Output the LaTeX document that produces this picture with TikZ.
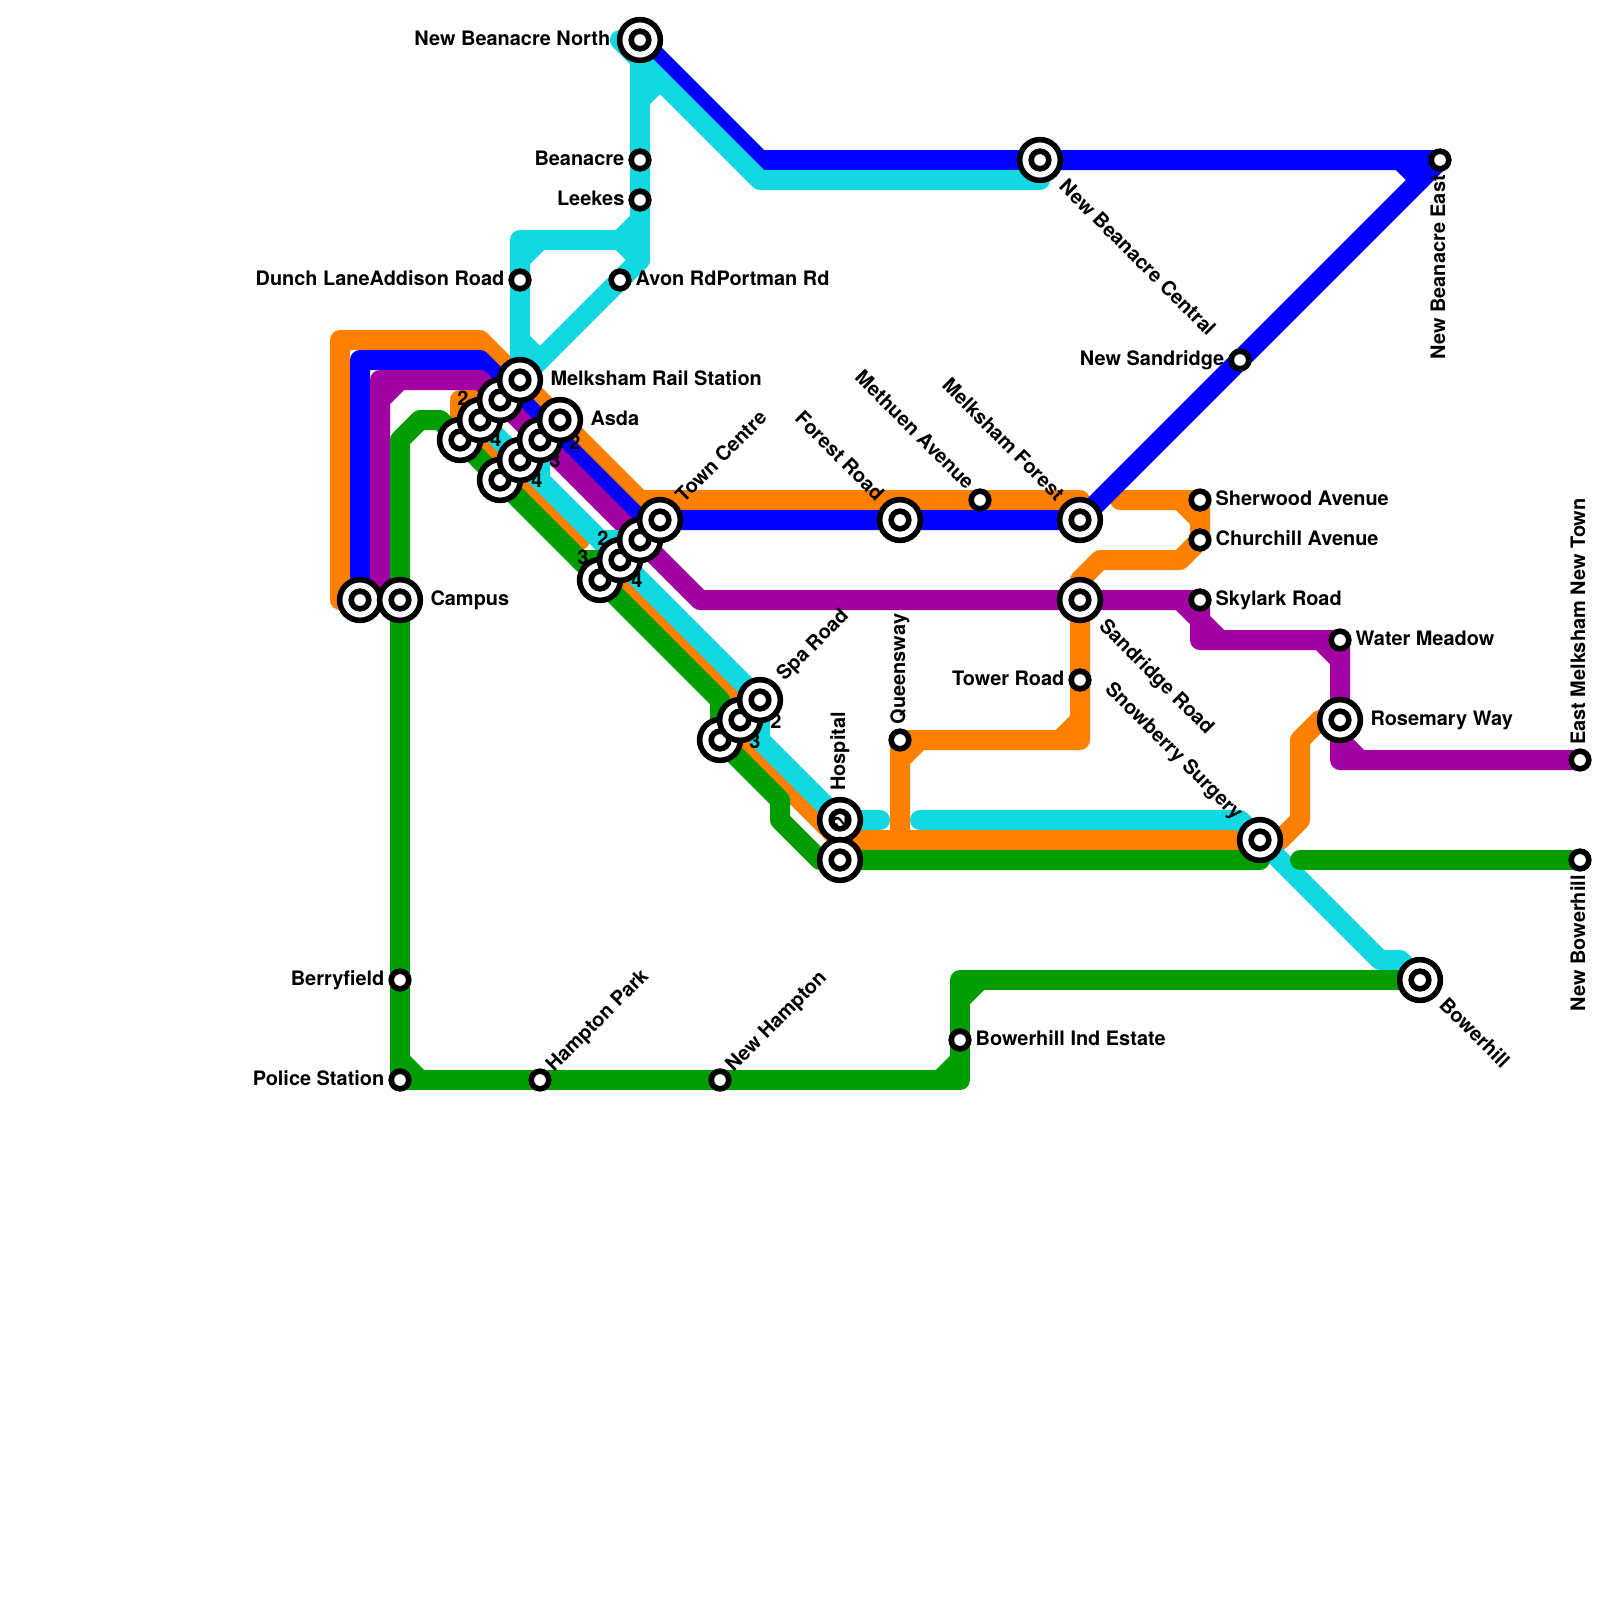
\documentclass[tikz,border=0pt]{standalone}
\usepackage{fontspec}
\setmainfont{TeX Gyre Heros}
\usetikzlibrary{backgrounds,positioning}
\definecolor{lineOrange}{HTML}{FF7F00}
\definecolor{lineBlue}{HTML}{0000FF}
\definecolor{linePurple}{HTML}{A200A2}
\definecolor{lineCyan}{HTML}{12D8E1}
\definecolor{lineGreen}{HTML}{009E00}
\begin{document}
\begin{tikzpicture}[x=0.5cm, y=-0.5cm,
  node distance=2.7pt,
  rt/.style={line width=0.5cm, line cap=round, line join=round},
  stop/.style={circle, draw=black, fill=white, line width=4pt,
               minimum size=12.53pt, inner sep=0pt},
  hub/.style={stop, minimum size=29pt,
              path picture={\draw[line width=4pt] (path picture bounding box.center) circle (6.27pt);}},
  lab/.style={font=\fontsize{14.17pt}{16pt}\selectfont\bfseries, inner sep=0pt,
              text height=10pt, text depth=0pt},
  sta/.style={lab, yshift=1.4pt},
  num/.style={font=\fontsize{14.17pt}{16pt}\selectfont\bfseries, inner sep=0pt}
]
\useasboundingbox (0,0) rectangle (80,80);
% platform numbers, half hidden by the stations
\node[num] (n1)  at (23.15,19.9)  {2};
\node[num] (n2)  at (24.8,21.95)  {4};
\node[num] (n3)  at (28.75,22.1)  {2};
\node[num] (n4)  at (27.75,23)    {3};
\node[num] (n5)  at (26.85,24)    {4};
\node[num] (n6)  at (30.15,26.9)  {2};
\node[num] (n7)  at (29.15,27.85) {3};
\node[num] (n8)  at (31.85,29)    {4};
\node[num] (n9)  at (38.8,36.05)  {2};
\node[num] (n10) at (37.75,37.05) {3};
% stations
\node[hub]  (north)    at (32,2)  {};
\node[stop] (beanacre) at (32,8)  {};
\node[stop] (leekes)   at (32,10) {};
\node[stop] (addison)  at (26,14) {};
\node[stop] (avon)     at (31,14) {};
\node[hub]  (central)  at (52,8)  {};
\node[stop] (east)     at (72,8)  {};
\node[stop] (newsand)  at (62,18) {};
\node[hub]  (railc)    at (23,22) {};
\node[hub]  (railb)    at (24,21) {};
\node[hub]  (raila)    at (25,20) {};
\node[hub]  (rail)     at (26,19) {};
\node[hub]  (asdac)    at (25,24) {};
\node[hub]  (asdab)    at (26,23) {};
\node[hub]  (asdaa)    at (27,22) {};
\node[hub]  (asda)     at (28,21) {};
\node[hub]  (townc)    at (30,29) {};
\node[hub]  (townb)    at (31,28) {};
\node[hub]  (towna)    at (32,27) {};
\node[hub]  (town)     at (33,26) {};
\node[hub]  (spab)     at (36,37) {};
\node[hub]  (spaa)     at (37,36) {};
\node[hub]  (spa)      at (38,35) {};
\node[hub]  (campusa)  at (18,30) {};
\node[hub]  (campus)   at (20,30) {};
\node[hub]  (forestrd) at (45,26) {};
\node[stop] (methuen)  at (49,25) {};
\node[hub]  (forest)   at (54,26) {};
\node[stop] (sherwood) at (60,25) {};
\node[stop] (church)   at (60,27) {};
\node[stop] (skylark)  at (60,30) {};
\node[hub]  (sandr)    at (54,30) {};
\node[stop] (tower)    at (54,34) {};
\node[stop] (queens)   at (45,37) {};
\node[stop] (water)    at (67,32) {};
\node[hub]  (rosemary) at (67,36) {};
\node[stop] (newtown)  at (79,38) {};
\node[hub]  (hospa)    at (42,41) {};
\node[hub]  (hospb)    at (42,43) {};
\node[hub]  (snow)     at (63,42) {};
\node[stop] (newbow)   at (79,43) {};
\node[hub]  (bower)    at (71,49) {};
\node[stop] (berry)    at (20,49) {};
\node[stop] (indest)   at (48,52) {};
\node[stop] (police)   at (20,54) {};
\node[stop] (hampton)  at (27,54) {};
\node[stop] (newhamp)  at (36,54) {};
\node[num, rotate=90] (n11) at (42,41.1) {2};
% free line ends
\coordinate (cyanend)   at (44,41);
\coordinate (cyanstart) at (46,41);
\coordinate (orgstart)  at (56,25);
\coordinate (grnstart)  at (65,43);
% labels
\node[sta, left=4.5pt of north]   (l1)  {New Beanacre North};
\node[sta, left=of beanacre]      (l2)  {Beanacre};
\node[sta, left=of leekes]        (l3)  {Leekes};
\node[sta, left=of addison]       (l4)  {Dunch LaneAddison Road};
\node[sta, right=of avon]         (l5)  {Avon RdPortman Rd};
\node[sta, left=of newsand]       (l6)  {New Sandridge};
\node[sta, right=5pt of rail]     (l7)  {Melksham Rail Station};
\node[sta, right=5pt of asda]     (l8)  {Asda};
\node[sta, right=5pt of campus]   (l9)  {Campus};
\node[sta, right=of sherwood]     (l10) {Sherwood Avenue};
\node[sta, right=of church]       (l11) {Churchill Avenue};
\node[sta, right=of skylark]      (l12) {Skylark Road};
\node[sta, right=of water]        (l13) {Water Meadow};
\node[sta, right=5pt of rosemary] (l14) {Rosemary Way};
\node[sta, left=of tower]         (l15) {Tower Road};
\node[sta, left=of berry]         (l16) {Berryfield};
\node[sta, left=of police]        (l17) {Police Station};
\node[sta, right=of indest]       (l18) {Bowerhill Ind Estate};
\node[lab, rotate=45, anchor=west]  (l19) at (33.93,24.92) {Town Centre};
\node[lab, rotate=45, anchor=west]  (l20) at (38.97,33.85) {Spa Road};
\node[lab, rotate=45, anchor=west]  (l21) at (27.45,53.4)  {Hampton Park};
\node[lab, rotate=45, anchor=west]  (l22) at (36.42,53.4)  {New Hampton};
\node[lab, rotate=-45, anchor=west] (l23) at (53.15,9.13)  {New Beanacre Central};
\node[lab, rotate=-45, anchor=west] (l24) at (55.15,31.1)  {Sandridge Road};
\node[lab, rotate=-45, anchor=west] (l25) at (72.15,50.05) {Bowerhill};
\node[lab, rotate=-45, anchor=east] (l26) at (62,40.8)     {Snowberry Surgery};
\node[lab, rotate=-45, anchor=east] (l27) at (44.05,24.85) {Forest Road};
\node[lab, rotate=-45, anchor=east] (l28) at (48.55,24.3)  {Methuen Avenue};
\node[lab, rotate=-45, anchor=east] (l29) at (53.05,24.85) {Melksham Forest};
\node[lab, rotate=90, anchor=west]  (l30) at (41.9,39.55)  {Hospital};
\node[lab, rotate=90, anchor=west]  (l31) at (44.9,36.22)  {Queensway};
\node[lab, rotate=90, anchor=east]  (l32) at (71.9,8.75)   {New Beanacre East};
\node[lab, rotate=90, anchor=west]  (l33) at (78.9,37.25)  {East Melksham New Town};
\node[lab, rotate=90, anchor=east]  (l34) at (78.9,43.75)  {New Bowerhill};
% lines go under everything
\begin{scope}[on background layer]
\draw[rt, lineOrange] (campusa.center) -- (17,30) -- (17,17) -- (24,17) -- (32,25) -- (54,25) -- (forest.center);
\draw[rt, lineOrange] (railc.center) -- (23,20) -- (raila.center);
\draw[rt, lineOrange] (23,21) -- (29,27);
\draw[rt, lineOrange] (31,29) -- (37,35) -- (37,37) -- (42,42) -- (snow.center) -- (64,42) -- (65,41) -- (65,37) -- (66,36) -- (rosemary.center);
\draw[rt, lineOrange] (45,42) -- (queens.center) -- (54,37) -- (sandr.center) -- (54,29) -- (55,28) -- (59,28)
  -- (church.center) -- (sherwood.center) -- (orgstart);
\draw[rt, lineOrange] (46,37) -- (45,38) (53,37) -- (54,36) (59,25) -- (60,26);
\draw[rt, lineBlue] (campusa.center) -- (18,18) -- (24,18) -- (32,26) -- (town.center) -- (forestrd.center) -- (forest.center)
  -- (newsand.center) -- (east.center) -- (central.center) -- (38,8) -- (north.center);
\draw[rt, lineBlue] (70,8) -- (71,9);
\draw[rt, linePurple] (campusa.center) -- (19,30) -- (19,19) -- (24,19) -- (35,30) -- (sandr.center) -- (skylark.center)
  -- (60,32) -- (water.center) -- (rosemary.center) -- (67,38) -- (newtown.center);
\draw[rt, linePurple] (19,20) -- (20,19) (59,30) -- (61,32) (66,32) -- (67,33) (67,37) -- (68,38);
\draw[rt, lineCyan] (north.center) -- (31,2) -- (38,9) -- (52,9) -- (central.center);
\draw[rt, lineCyan] (north.center) -- (beanacre.center) -- (leekes.center) -- (32,13) -- (avon.center) -- (rail.center)
  -- (addison.center) -- (26,12) -- (31,12) -- (32,11);
\draw[rt, lineCyan] (31,12) -- (32,13) (26,13) -- (27,12) (26,17) -- (27,18) (32,5) -- (33,4);
\draw[rt, lineCyan] (railb.center) -- (asdab.center) -- (townb.center) -- (spa.center) -- (38,37) -- (hospa.center) -- (cyanend);
\draw[rt, lineCyan] (asdaa.center) -- (27,24);
\draw[rt, lineCyan] (30,27) -- (towna.center);
\draw[rt, lineCyan] (cyanstart) -- (62,41) -- (snow.center) -- (69,48) -- (70,48) -- (bower.center);
\draw[rt, lineGreen] (campus.center) -- (20,22) -- (21,21) -- (22,21) -- (railc.center) -- (asdac.center) -- (townc.center)
  -- (36,35) -- (spab.center) -- (39,40) -- (39,41) -- (41,43) -- (hospb.center) -- (63,43) -- (snow.center);
\draw[rt, lineGreen] (29,28) -- (townb.center);
\draw[rt, lineGreen] (grnstart) -- (newbow.center);
\draw[rt, lineGreen] (campus.center) -- (berry.center) -- (police.center) -- (hampton.center) -- (newhamp.center)
  -- (48,54) -- (indest.center) -- (48,49) -- (bower.center);
\draw[rt, lineGreen] (20,53) -- (21,54) (47,54) -- (48,53) (48,50) -- (49,49);
\end{scope}
\end{tikzpicture}
\end{document}
